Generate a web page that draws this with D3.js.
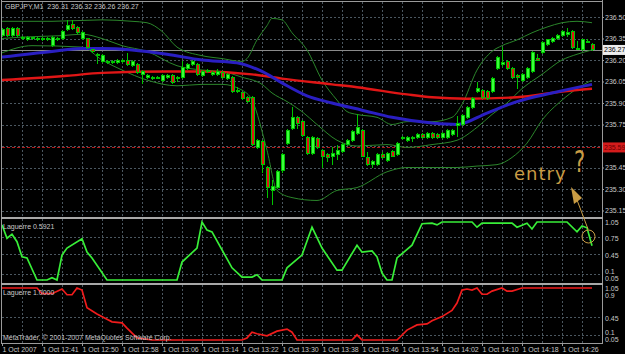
<!DOCTYPE html>
<html>
<head>
<meta charset="utf-8">
<script src="https://cdn.jsdelivr.net/npm/d3@7/dist/d3.min.js"></script>
<style>
  body { margin: 0; background: #000; }
  svg { display: block; }
  .axis path.domain { display: none; }
  .axis line { stroke: #9a9a9a; }
  .axis text { fill: #c8c8c8; font: 7px "Liberation Sans", sans-serif; }
  .lbl { fill: #c8c8c8; font: 7px "Liberation Sans", sans-serif; white-space: pre; }
</style>
</head>
<body>
<div id="chart"></div>
<script>
var w = 625;
var h = 354;

// GBPJPY M1 candles
var opens = [
  236.37, 236.42, 236.37, 236.42, 236.35, 236.34, 236.35, 236.35, 236.35, 236.34,
  236.30, 236.34, 236.35, 236.41, 236.45, 236.43, 236.35, 236.35, 236.27, 236.23,
  236.19, 236.18, 236.18, 236.18, 236.19, 236.20, 236.16, 236.17, 236.10, 236.08,
  236.07, 236.08, 236.06, 236.08, 236.09, 236.07, 236.08, 236.14, 236.17, 236.17,
  236.09, 236.12, 236.10, 236.10, 236.11, 236.07, 236.08, 235.98, 235.97, 235.94,
  235.94, 235.59, 235.63, 235.45, 235.29, 235.31, 235.43, 235.62, 235.72, 235.80,
  235.77, 235.66, 235.55, 235.65, 235.57, 235.54, 235.53, 235.54, 235.56, 235.61,
  235.64, 235.69, 235.71, 235.52, 235.47, 235.47, 235.54, 235.50, 235.56, 235.54,
  235.65, 235.64, 235.66, 235.66, 235.68, 235.66, 235.69, 235.68, 235.66, 235.66,
  235.68, 235.74, 235.75, 235.80, 235.87, 235.98, 235.99, 235.98, 235.98, 236.14,
  236.17, 236.19, 236.14, 236.09, 236.06, 236.08, 236.12, 236.21, 236.25, 236.31,
  236.33, 236.35, 236.37, 236.38, 236.40, 236.28, 236.27, 236.33, 236.31
];
var highs = [
  236.42, 236.43, 236.43, 236.43, 236.37, 236.37, 236.36, 236.36, 236.36, 236.36,
  236.37, 236.36, 236.41, 236.48, 236.48, 236.44, 236.40, 236.35, 236.28, 236.25,
  236.24, 236.20, 236.20, 236.21, 236.21, 236.25, 236.20, 236.18, 236.13, 236.10,
  236.09, 236.09, 236.10, 236.10, 236.10, 236.09, 236.19, 236.18, 236.20, 236.18,
  236.13, 236.14, 236.12, 236.14, 236.12, 236.11, 236.09, 236.01, 235.98, 235.95,
  235.95, 235.65, 235.64, 235.46, 235.36, 235.43, 235.55, 235.72, 235.87, 235.81,
  235.78, 235.67, 235.67, 235.66, 235.58, 235.55, 235.59, 235.61, 235.62, 235.65,
  235.71, 235.82, 235.72, 235.56, 235.50, 235.55, 235.56, 235.56, 235.57, 235.63,
  235.67, 235.67, 235.67, 235.69, 235.69, 235.70, 235.70, 235.69, 235.70, 235.72,
  235.72, 235.81, 235.82, 235.88, 235.94, 236.05, 236.00, 235.99, 236.08, 236.23,
  236.29, 236.20, 236.15, 236.10, 236.11, 236.15, 236.26, 236.24, 236.33, 236.35,
  236.36, 236.38, 236.41, 236.42, 236.41, 236.33, 236.35, 236.35, 236.32
];
var lows = [
  236.36, 236.36, 236.36, 236.36, 236.34, 236.33, 236.34, 236.33, 236.33, 236.33,
  236.29, 236.33, 236.34, 236.40, 236.41, 236.38, 236.34, 236.28, 236.25, 236.17,
  236.18, 236.17, 236.17, 236.17, 236.18, 236.16, 236.15, 236.10, 236.03, 236.07,
  236.06, 236.07, 236.05, 236.07, 236.03, 236.05, 236.07, 236.13, 236.16, 236.09,
  236.08, 236.11, 236.09, 236.09, 236.07, 236.06, 235.97, 235.97, 235.92, 235.90,
  235.60, 235.58, 235.41, 235.24, 235.19, 235.30, 235.41, 235.61, 235.71, 235.72,
  235.66, 235.54, 235.54, 235.58, 235.45, 235.49, 235.47, 235.50, 235.55, 235.60,
  235.63, 235.68, 235.52, 235.46, 235.45, 235.46, 235.51, 235.49, 235.52, 235.53,
  235.64, 235.63, 235.63, 235.65, 235.65, 235.65, 235.65, 235.65, 235.65, 235.65,
  235.67, 235.66, 235.74, 235.79, 235.86, 235.97, 235.93, 235.92, 235.97, 236.13,
  236.15, 236.13, 236.07, 236.00, 236.05, 236.07, 236.11, 236.19, 236.24, 236.30,
  236.32, 236.34, 236.36, 236.36, 236.28, 236.27, 236.26, 236.32, 236.26
];
var closes = [
  236.41, 236.37, 236.42, 236.37, 236.36, 236.36, 236.36, 236.35, 236.35, 236.35,
  236.36, 236.35, 236.40, 236.44, 236.42, 236.39, 236.39, 236.29, 236.26, 236.24,
  236.23, 236.19, 236.19, 236.20, 236.20, 236.17, 236.19, 236.11, 236.12, 236.09,
  236.08, 236.08, 236.09, 236.09, 236.04, 236.08, 236.15, 236.17, 236.19, 236.10,
  236.12, 236.13, 236.11, 236.12, 236.08, 236.10, 235.98, 235.99, 235.93, 235.91,
  235.61, 235.64, 235.47, 235.31, 235.32, 235.42, 235.54, 235.71, 235.80, 235.76,
  235.67, 235.55, 235.66, 235.59, 235.53, 235.52, 235.55, 235.57, 235.61, 235.64,
  235.70, 235.73, 235.53, 235.47, 235.49, 235.54, 235.52, 235.55, 235.53, 235.62,
  235.66, 235.66, 235.66, 235.68, 235.66, 235.69, 235.66, 235.66, 235.69, 235.71,
  235.71, 235.76, 235.81, 235.87, 235.93, 236.00, 235.94, 235.93, 236.07, 236.22,
  236.18, 236.14, 236.08, 236.08, 236.10, 236.14, 236.25, 236.20, 236.32, 236.34,
  236.35, 236.37, 236.40, 236.39, 236.29, 236.28, 236.34, 236.33, 236.27
];

// Bollinger bands and moving averages as [bar, price]
var bbUpper = [[0,236.47],[10,236.47],[20,236.48],[26,236.47],[29,236.46],[32,236.40],[35,236.29],
  [40,236.23],[44,236.21],[48,236.19],[49,236.21],[51,236.34],[53,236.44],[54,236.49],[56,236.48],
  [58,236.39],[61,236.27],[64,236.06],[67,235.92],[69,235.84],[71,235.82],[75,235.80],[78,235.75],
  [81,235.77],[86,235.77],[90,235.80],[92,235.89],[95,236.13],[98,236.26],[100,236.30],[103,236.34],
  [106,236.39],[109,236.43],[112,236.46],[115,236.47],[118,236.46]];
var bbMiddle = [[0,236.35],[4,236.36],[12,236.37],[16,236.38],[20,236.35],[24,236.30],[29,236.26],
  [35,236.16],[40,236.13],[44,236.12],[48,236.08],[52,236.03],[54,235.97],[57,235.91],[60,235.84],
  [63,235.75],[67,235.64],[71,235.60],[77,235.61],[81,235.59],[86,235.61],[91,235.64],[95,235.73],
  [98,235.82],[101,235.90],[104,236.00],[108,236.10],[112,236.20],[115,236.24],[118,236.27]];
var bbLower = [[0,236.25],[6,236.30],[16,236.29],[20,236.20],[24,236.13],[29,236.06],[35,236.02],
  [40,236.03],[44,236.03],[48,235.99],[50,235.92],[53,235.57],[55,235.29],[58,235.24],[63,235.22],
  [67,235.29],[71,235.31],[77,235.42],[81,235.45],[86,235.45],[91,235.45],[95,235.46],[99,235.47],
  [102,235.52],[105,235.62],[108,235.78],[112,235.92],[115,236.00],[118,236.06]];
var maBlue = [[0,236.22],[10,236.26],[16,236.28],[20,236.28],[26,236.27],[33,236.24],[40,236.20],
  [47,236.18],[52,236.12],[56,236.04],[61,235.95],[66,235.90],[72,235.85],[78,235.80],[86,235.76],
  [91,235.75],[97,235.83],[103,235.91],[110,235.97],[118,236.03]];
var maRed = [[0,236.06],[13,236.09],[20,236.11],[33,236.12],[40,236.12],[50,236.10],[56,236.07],
  [66,236.03],[71,236.01],[81,235.96],[86,235.94],[93,235.93],[103,235.94],[112,235.98],[118,236.00]];

// Laguerre panes as [bar, value]
var lagFast = [[0,0.95],[1,0.72],[2,0.79],[3,0.66],[4,0.40],[5,0.38],[7,0],[9,0],[10,0.04],[11,0],
  [12,0.43],[13,0.55],[16,0.71],[17,0.48],[18,0.38],[21,0],[35,0],[36,0.31],[39,0.55],[40,1.0],
  [41,0.86],[42,0.83],[46,0.21],[48,0.05],[50,0.05],[51,0.09],[52,0],[56,0],[57,0.21],[60,0.43],
  [62,0.91],[64,0.55],[67,0.17],[68,0.17],[71,0.60],[72,0.48],[74,0.50],[75,0.40],[76,0.12],[77,0],
  [78,0],[79,0.38],[82,0.60],[84,0.97],[86,0.98],[87,0.95],[88,1],[94,1],[95,0.91],[96,0.98],
  [102,0.98],[103,0.91],[105,0.98],[106,0.88],[107,1],[113,1],[115,0.83],[116,0.93],[117,0.90],[118,0.5921]];
var lagSlow = [[0,1],[7,1],[8,0.89],[10,0.89],[12,0.98],[13,0.87],[14,0.87],[15,1.0],[16,0.96],[17,0.62],
  [19,0.50],[21,0.40],[22,0.35],[24,0.33],[25,0.23],[27,0.04],[30,0],[48,0],[49,0.04],[50,0.15],
  [51,0.12],[53,0.08],[55,0.17],[57,0.21],[58,0.15],[59,0],[70,0],[71,0.1],[72,0],[79,0],[81,0.19],
  [83,0.29],[85,0.31],[86,0.37],[88,0.45],[90,0.57],[91,0.71],[92,0.96],[93,0.98],[94,0.96],[95,1.0],
  [96,0.88],[97,0.88],[98,0.94],[100,1.0],[101,0.94],[102,0.94],[104,1.0],[118,1.0]];

var priceTicks = [236.50, 236.35, 236.20, 236.05, 235.90, 235.75, 235.60, 235.45, 235.30, 235.15];
var timeLabels = ["1 Oct 2007", "1 Oct 12:41", "1 Oct 12:50", "1 Oct 12:58", "1 Oct 13:06",
  "1 Oct 13:14", "1 Oct 13:22", "1 Oct 13:30", "1 Oct 13:38", "1 Oct 13:46", "1 Oct 13:54",
  "1 Oct 14:02", "1 Oct 14:10", "1 Oct 14:18", "1 Oct 14:26"];
var fastLevels = [1.05, 0.75, 0.45, 0.1, 0.05];
var slowLevels = [1.05, 0.9, 0.45, 0.1, 0.05];
var fastGrid = [0.75, 0.45, 0.1];
var slowGrid = [0.45, 0.1];
var bidPrice = 236.27;
var orderPrice = 235.59;

var svg = d3.select("#chart").append("svg")
    .attr("width", w)
    .attr("height", h);

svg.append("rect").attr("width", w).attr("height", h).attr("fill", "#000");

var xScale = d3.scaleLinear().domain([0, opens.length - 1]).range([2, 592]);
var yScale = d3.scaleLinear().domain([235.15, 236.50]).range([210.5, 17]);
var yFast = d3.scaleLinear().domain([0, 1]).range([280, 222]);
var ySlow = d3.scaleLinear().domain([0, 1]).range([340, 288]);

var gridColor = "#4b5760";
var panes = [[2, 217], [219, 283], [285, 343]];

svg.append("clipPath").attr("id", "clipMain")
    .append("rect").attr("x", 2).attr("y", 2).attr("width", 600).attr("height", 215);
svg.append("clipPath").attr("id", "clipFast")
    .append("rect").attr("x", 2).attr("y", 219).attr("width", 600).attr("height", 64);
svg.append("clipPath").attr("id", "clipSlow")
    .append("rect").attr("x", 2).attr("y", 285).attr("width", 600).attr("height", 58);

//vertical grid through every pane
var vgrid = d3.range(4, 120, 4);
panes.forEach(function(p) {
    svg.append("g").selectAll("line")
        .data(vgrid)
        .enter()
        .append("line")
        .attr("x1", function(d) { return Math.round(xScale(d)) + 0.5; })
        .attr("x2", function(d) { return Math.round(xScale(d)) + 0.5; })
        .attr("y1", p[0])
        .attr("y2", p[1])
        .attr("stroke", gridColor)
        .attr("stroke-dasharray", "2,2");
});

function hgrid(values, scale) {
    svg.append("g").selectAll("line")
        .data(values)
        .enter()
        .append("line")
        .attr("x1", 2)
        .attr("x2", 602)
        .attr("y1", function(d) { return Math.round(scale(d)) + 0.5; })
        .attr("y2", function(d) { return Math.round(scale(d)) + 0.5; })
        .attr("stroke", gridColor)
        .attr("stroke-dasharray", "2,2");
}
hgrid(priceTicks, yScale);
hgrid(fastGrid, yFast);
hgrid(slowGrid, ySlow);

var main = svg.append("g").attr("clip-path", "url(#clipMain)");

// bid line and pending level
main.append("line")
    .attr("x1", 2).attr("x2", 602)
    .attr("y1", Math.round(yScale(bidPrice)) + 0.5)
    .attr("y2", Math.round(yScale(bidPrice)) + 0.5)
    .attr("stroke", "#8a8a8a");
main.append("line")
    .attr("x1", 2).attr("x2", 602)
    .attr("y1", Math.round(yScale(orderPrice)) + 0.5)
    .attr("y2", Math.round(yScale(orderPrice)) + 0.5)
    .attr("stroke", "#b31a1a")
    .attr("stroke-dasharray", "3,2");

var smooth = d3.line()
    .x(function(d) { return xScale(d[0]); })
    .y(function(d) { return yScale(d[1]); })
    .curve(d3.curveMonotoneX);

[bbUpper, bbMiddle, bbLower].forEach(function(band) {
    main.append("path")
        .attr("d", smooth(band))
        .attr("fill", "none")
        .attr("stroke", "#2b862b")
        .attr("stroke-width", 1);
});
main.append("path")
    .attr("d", smooth(maRed))
    .attr("fill", "none")
    .attr("stroke", "#e01616")
    .attr("stroke-width", 2.4);
main.append("path")
    .attr("d", smooth(maBlue))
    .attr("fill", "none")
    .attr("stroke", "#2a1fc2")
    .attr("stroke-width", 3);

// candles
var bars = opens.map(function(o, i) {
    return { i: i, o: o, h: highs[i], l: lows[i], c: closes[i] };
});
var candle = main.append("g").attr("shape-rendering", "crispEdges")
    .selectAll("g")
    .data(bars)
    .enter()
    .append("g");
candle.append("line")
    .attr("x1", function(d) { return xScale(d.i) + 0.5; })
    .attr("x2", function(d) { return xScale(d.i) + 0.5; })
    .attr("y1", function(d) { return yScale(d.h); })
    .attr("y2", function(d) { return yScale(d.l); })
    .attr("stroke", "#00c400");
candle.append("rect")
    .attr("x", function(d) { return xScale(d.i) - 1; })
    .attr("y", function(d) { return yScale(Math.max(d.o, d.c)); })
    .attr("width", 3)
    .attr("height", function(d) { return Math.max(1, Math.abs(yScale(d.o) - yScale(d.c))); })
    .attr("fill", function(d) {
        if (d.c >= d.o) {
            return "#3cff3c";
        } else {
            return "#e01414";
        }
    })
    .attr("stroke", "#00c400")
    .attr("stroke-width", 1);

// Laguerre lines
var fastLine = d3.line()
    .x(function(d) { return xScale(d[0]); })
    .y(function(d) { return yFast(d[1]); });
var slowLine = d3.line()
    .x(function(d) { return xScale(d[0]); })
    .y(function(d) { return ySlow(d[1]); });
svg.append("path")
    .attr("clip-path", "url(#clipFast)")
    .attr("d", fastLine(lagFast))
    .attr("fill", "none")
    .attr("stroke", "#38ee38")
    .attr("stroke-width", 1.7);
svg.append("path")
    .attr("clip-path", "url(#clipSlow)")
    .attr("d", slowLine(lagSlow))
    .attr("fill", "none")
    .attr("stroke", "#f01c1c")
    .attr("stroke-width", 1.7);

// frame and pane separators
svg.append("line").attr("x1", 1.5).attr("x2", 1.5).attr("y1", 0).attr("y2", 344).attr("stroke", "#9a9a9a");
svg.append("line").attr("x1", 602.5).attr("x2", 602.5).attr("y1", 0).attr("y2", 344).attr("stroke", "#9a9a9a");
svg.append("line").attr("x1", 1).attr("x2", 603).attr("y1", 1.5).attr("y2", 1.5).attr("stroke", "#9a9a9a");
svg.append("rect").attr("x", 1).attr("y", 217).attr("width", 602).attr("height", 2).attr("fill", "#a8a8a8");
svg.append("rect").attr("x", 1).attr("y", 283).attr("width", 602).attr("height", 2).attr("fill", "#a8a8a8");
svg.append("line").attr("x1", 1).attr("x2", 603).attr("y1", 343.5).attr("y2", 343.5).attr("stroke", "#9a9a9a");

// price axis
var yAxis = d3.axisRight()
    .scale(yScale)
    .tickValues(priceTicks)
    .tickFormat(d3.format(".2f"))
    .tickSize(2)
    .tickPadding(1);
svg.append("g")
    .attr("class", "axis")
    .attr("transform", "translate(602,0)")
    .call(yAxis);

// time axis
var xAxis = d3.axisBottom()
    .scale(xScale)
    .tickValues(d3.range(0, 113, 8))
    .tickFormat(function(d, i) { return timeLabels[i]; })
    .tickSize(3)
    .tickPadding(1);
svg.append("g")
    .attr("class", "axis")
    .attr("transform", "translate(0,343)")
    .call(xAxis)
    .selectAll("text")
    .attr("text-anchor", "start");

// indicator level labels; the close pairs are spread a little so they stay readable
function levelLabels(values, scale, top, bottom) {
    svg.append("g").selectAll("text")
        .data(values)
        .enter()
        .append("text")
        .attr("class", "lbl")
        .attr("x", 605)
        .attr("y", function(d, i) {
            var yy = scale(d) + 2;
            if (i === 0) yy = top + 4;
            if (i === 1 && values[0] - d < 0.2) yy = top + 11;
            if (i === values.length - 2) yy = bottom - 11;
            if (i === values.length - 1) yy = bottom - 4;
            return yy;
        })
        .attr("dy", "0.35em")
        .text(function(d) { return String(d); });
}
levelLabels(fastLevels, yFast, 219, 283);
levelLabels(slowLevels, ySlow, 285, 344);

// price markers on the axis
svg.append("rect").attr("x", 603).attr("y", yScale(bidPrice) - 5).attr("width", 22).attr("height", 10).attr("fill", "#ececec");
svg.append("text").attr("class", "lbl").attr("x", 604).attr("y", yScale(bidPrice)).attr("dy", "0.35em")
    .style("fill", "#000").text(d3.format(".2f")(bidPrice));
svg.append("rect").attr("x", 603).attr("y", yScale(orderPrice) - 5).attr("width", 22).attr("height", 10).attr("fill", "#d41c1c");
svg.append("text").attr("class", "lbl").attr("x", 604).attr("y", yScale(orderPrice)).attr("dy", "0.35em")
    .style("fill", "#6a0000").text(d3.format(".2f")(orderPrice));

// pane titles
svg.append("text").attr("class", "lbl").attr("x", 5).attr("y", 9)
    .text("GBPJPY,M1  " + [opens[opens.length - 1], highs[highs.length - 1], lows[lows.length - 1], closes[closes.length - 1]].map(d3.format(".2f")).join(" "));
svg.append("text").attr("class", "lbl").attr("x", 3).attr("y", 229)
    .text("Laguerre " + d3.format(".4f")(lagFast[lagFast.length - 1][1]));
svg.append("text").attr("class", "lbl").attr("x", 3).attr("y", 295)
    .text("Laguerre " + d3.format(".4f")(lagSlow[lagSlow.length - 1][1]));
svg.append("text").attr("class", "lbl").attr("x", 3).attr("y", 340)
    .text("MetaTrader, \u00a9 2001-2007 MetaQuotes Software Corp.");

// hand drawn note
var ink = "#c99c44";
svg.append("text")
    .attr("x", 514).attr("y", 180)
    .attr("fill", ink)
    .style("font", "18px 'DejaVu Sans', sans-serif")
    .attr("letter-spacing", 1)
    .text("entry");
svg.append("text")
    .attr("transform", "translate(574,172) scale(0.7,1)")
    .attr("fill", ink)
    .style("font", "30px 'DejaVu Sans', sans-serif")
    .text("?");
svg.append("path")
    .attr("d", "M571,187 L582,198 L574,204 Z")
    .attr("fill", ink);
svg.append("path")
    .attr("d", "M577,200 L588,229")
    .attr("stroke", ink)
    .attr("fill", "none");
svg.append("circle")
    .attr("cx", xScale(117.3)).attr("cy", yFast(0.75)).attr("r", 6.5)
    .attr("fill", "none")
    .attr("stroke", ink);
</script>
</body>
</html>
